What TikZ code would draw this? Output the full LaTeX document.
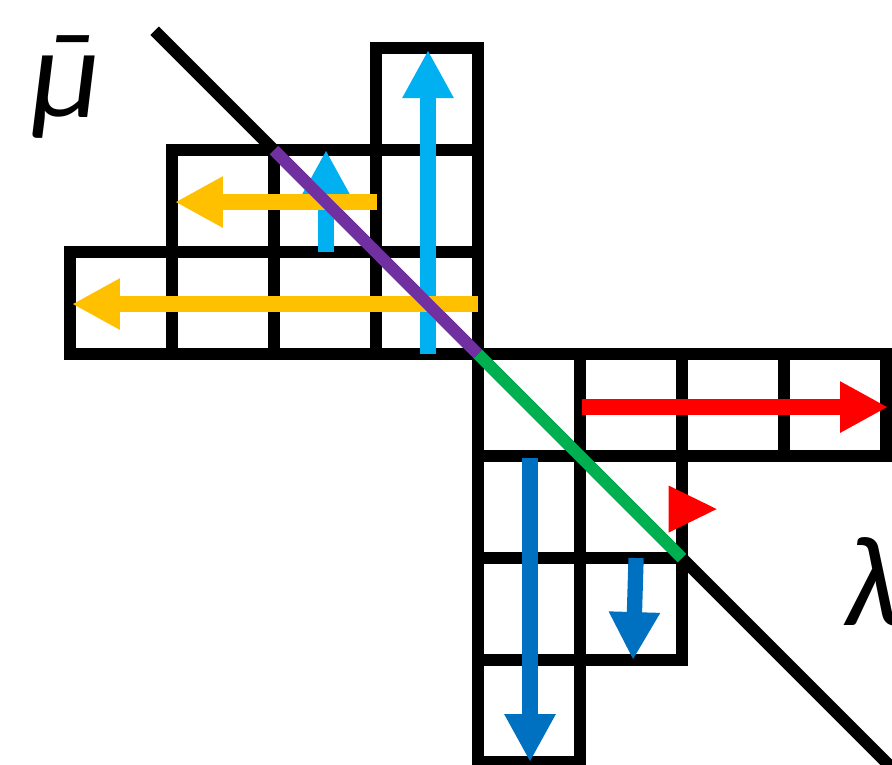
\documentclass[tikz,border=0pt]{standalone}
\usepackage{fontspec}
\setmainfont{Carlito}
\usetikzlibrary{arrows.meta}
\definecolor{upcyan}{HTML}{00B0F0}
\definecolor{leftyellow}{HTML}{FFC000}
\definecolor{rightred}{HTML}{FF0000}
\definecolor{downblue}{HTML}{0070C0}
\definecolor{mupurple}{HTML}{7030A0}
\definecolor{lamgreen}{HTML}{00B050}
\begin{document}
\begin{tikzpicture}[line join=miter,>={Triangle[length=0.47cm,width=0.47cm]}]
	\tikzset{cell/.style={line width=0.118cm},
		arr/.style={line width=0.15cm,->},
		lab/.style={inner sep=0pt,font=\fontsize{36}{42}\selectfont\itshape}}
	\useasboundingbox (-4.686,-4.02) rectangle (4.059,3.471);
	\clip (-4.686,-4.02) rectangle (4.059,3.471);
	% boxes of mu
	\foreach \x/\y in {-1/2,-3/1,-2/1,-1/1,-4/0,-3/0,-2/0,-1/0}
	\draw[cell] (\x,\y) rectangle ++(1,1);
	% boxes of lambda
	\foreach \x/\y in {0/-1,1/-1,2/-1,3/-1,0/-2,1/-2,0/-3,1/-3,0/-4}
	\draw[cell] (\x,\y) rectangle ++(1,1);
	\draw[line width=0.118cm] (-3.17,3.17)--(4.3,-4.3);
	% arrows
	\draw[arr,upcyan] (-0.49,0)--(-0.49,2.98);
	\draw[arr,upcyan] (-1.49,1)--(-1.49,2);
	\draw[arr,leftyellow] (-0.99,1.49)--(-2.97,1.49);
	\draw[arr,leftyellow] (0,0.49)--(-3.98,0.49);
	\draw[arr,rightred] (1.02,-0.52)--(4.02,-0.52);
	\fill[rightred] (1.87,-1.29)--(2.34,-1.52)--(1.87,-1.75)--cycle;
	\draw[arr,downblue] (0.51,-1.02)--(0.51,-4.0);
	\draw[arr,downblue] (1.55,-2.0)--(1.52,-3.0);
	% diagonal pieces
	\draw[line width=0.118cm,mupurple] (-2,2)--(0,0);
	\draw[line width=0.118cm,lamgreen] (0,0)--(2,-2);
	\node[lab,anchor=base west] (mubar) at (-4.38,2.32) {\accent"AF μ};
	\node[lab,anchor=base west] (lambda) at (3.58,-2.66) {λ};
\end{tikzpicture}
\end{document}
